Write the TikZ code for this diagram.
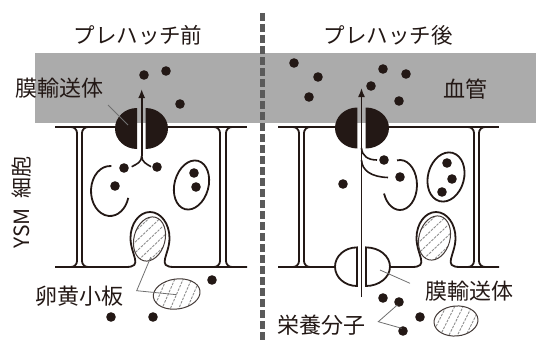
\documentclass[tikz,border=0pt]{standalone}
\usepackage{fontspec}
\setmainfont{Noto Sans CJK JP}
\usetikzlibrary{arrows.meta}

\definecolor{ink}{HTML}{231815}
\definecolor{band}{HTML}{ABABAB}
\definecolor{divider}{HTML}{5A5A5A}
\definecolor{leadgray}{HTML}{707070}
\definecolor{hatchgray}{HTML}{8E8E8E}

% yolk platelet: #1 centre, #2 x radius, #3 y radius, #4 tilt
\newcommand{\yolk}[4]{%
  \begin{scope}[shift={#1},rotate=#4]
    \begin{scope}
      \clip (0,0) ellipse [x radius=#2,y radius=#3];
      \foreach \k in {-54,-45,...,54}
        \draw[hatchgray,line width=0.9pt,dash pattern=on 2.6pt off 1.2pt] (\k-22,-36) -- (\k+22,36);
    \end{scope}
    \draw[yolkline] (0,0) ellipse [x radius=#2,y radius=#3];
  \end{scope}}

\begin{document}
\begin{tikzpicture}[x=1pt,y=1pt,
    membrane/.style={draw=ink,line width=1.8pt},
    flow/.style={draw=ink,line width=1.6pt},
    leader/.style={draw=leadgray,line width=0.8pt},
    yolkline/.style={draw=ink!85,line width=1pt},
    heading/.style={font=\fontsize{21.5}{26}\selectfont,text=ink,inner sep=0pt},
    lbl/.style={font=\fontsize{22}{26}\selectfont,text=ink,inner sep=0pt}]
    \useasboundingbox (0,0) rectangle (536,341);

    % blood vessel band
    \fill[band] (35,218) rectangle (536,288);

    % headings
    \node[heading] (pre) at (138,306) {プレハッチ前};
    \node[heading] (post) at (388,306) {プレハッチ後};
    \node[lbl] (vessel) at (465,252) {血管};
    \node[font=\fontsize{21}{24}\selectfont,text=ink,inner sep=0pt,rotate=90] (ysm) at (22,138.5) {YSM\hspace{0.45em}細胞};

    %% ---------- before prehatch ----------
    % apical and basal membrane
    \draw[membrane] (55,214) -- (125,214);
    \draw[membrane] (155,214) -- (247,214);
    \draw[membrane] (55,74) -- (126,74) .. controls (144,74) and (130.5,86) .. (130.5,103)
        arc[start angle=180,end angle=0,x radius=19.5,y radius=26]
        .. controls (169.5,86) and (156,74) .. (174,74) -- (247,74);
    % cell walls
    \draw[membrane,rounded corners=6pt] (62,214) -- (77,214) -- (77,74) -- (62,74);
    \draw[membrane,rounded corners=6pt] (97,214) -- (82,214) -- (82,74) -- (97,74);
    \draw[membrane,rounded corners=6pt] (205,214) -- (220,214) -- (220,74) -- (205,74);
    \draw[membrane,rounded corners=6pt] (241,214) -- (226,214) -- (226,74) -- (241,74);

    % transporter, split in two
    \fill[ink] (137,192) arc[start angle=-90,end angle=-270,x radius=22,y radius=20.5] -- cycle;
    \fill[ink] (145.5,192) arc[start angle=-90,end angle=90,x radius=22.5,y radius=20.5] -- cycle;

    % uptake route
    \coordinate (lfork) at (141.7,185);
    \coordinate (ltip) at (141.7,252);
    \draw[flow] (131.7,174.3) .. controls (137,177) and (141.7,179) .. (lfork);
    \draw[flow] (151,174.3) .. controls (146.5,177) and (141.7,179) .. (lfork);
    \draw[flow,-{Latex[length=9pt,width=7pt]}] (lfork) -- (ltip);

    % endosomes
    \draw[membrane] (110,150) ++(86:19 and 25) arc[start angle=86,end angle=344,x radius=19,y radius=25];
    \draw[membrane,rotate around={-15:(191.5,156)}] (191.5,156) ellipse[x radius=17,y radius=25];

    % yolk platelets
    \yolk{(149.5,102)}{15.5}{22.5}{-15}
    \yolk{(176.7,47)}{23.5}{15}{8}

    % nutrients
    \foreach \p in {(144,266),(166,270),(180,237),(124,173),(157,174),(115,155),
                    (194,168),(196,154),(212,61),(111,24),(153,24)}
        \fill[ink] \p circle (4.8);

    % labels
    \node[lbl] (tpl) at (60,253) {膜輸送体};
    \coordinate (tpl-a) at (108,236);
    \coordinate (tpl-b) at (128,216);
    \draw[leader] (tpl-a) -- (tpl-b);

    \node[lbl] (yolklbl) at (79,45) {卵黄小板};
    \coordinate (yk-c) at (136.7,50.3);
    \coordinate (yk-in) at (150.7,83.7);
    \coordinate (yk-out) at (176.7,46.3);
    \draw[leader] (yk-in) -- (yk-c) -- (yk-out);

    %% ---------- after prehatch ----------
    \draw[membrane] (278,214) -- (345,214);
    \draw[membrane] (378,214) -- (499,214);
    \draw[membrane] (278,74) -- (336,74);
    \draw[membrane] (389,74) -- (412,74) .. controls (430,74) and (416.5,86) .. (416.5,103)
        arc[start angle=180,end angle=0,x radius=19.5,y radius=26]
        .. controls (455.5,86) and (442,74) .. (460,74) -- (499,74);
    \draw[membrane,rounded corners=6pt] (284,214) -- (299,214) -- (299,74) -- (284,74);
    \draw[membrane,rounded corners=6pt] (319,214) -- (304,214) -- (304,74) -- (319,74);
    \draw[membrane,rounded corners=6pt] (459,214) -- (474,214) -- (474,74) -- (459,74);
    \draw[membrane,rounded corners=6pt] (494,214) -- (479,214) -- (479,74) -- (494,74);

    % apical transporter
    \fill[ink] (357.3,192.5) arc[start angle=-90,end angle=-270,x radius=22.3,y radius=20.5] -- cycle;
    \fill[ink] (365.7,192.5) arc[start angle=-90,end angle=90,x radius=23.3,y radius=20.5] -- cycle;
    % basal transporter
    \draw[membrane,fill=white] (357,55) arc[start angle=-90,end angle=-270,x radius=22,y radius=19.3] -- cycle;
    \draw[membrane,fill=white] (366,55) arc[start angle=-90,end angle=90,x radius=24,y radius=19.3] -- cycle;

    % transcellular route
    \coordinate (rbase) at (361.5,44);
    \coordinate (rtip) at (361.5,253);
    \draw[flow,-{Latex[length=9pt,width=7pt]}] (rbase) -- (rtip);
    \draw[flow] (361.5,193) .. controls (362,185) and (368,181) .. (377,181);
    \draw[flow] (361.5,181) .. controls (362,170) and (372,164) .. (388,163.5);

    % endosomes
    \draw[membrane] (400,156) ++(100:17 and 25) arc[start angle=100,end angle=-160,x radius=17,y radius=25];
    \draw[membrane,rotate around={-15:(446,164)}] (446,164) ellipse[x radius=18,y radius=25];

    % yolk platelets
    \yolk{(434.5,103)}{15.5}{22.5}{-15}
    \yolk{(456,20)}{22}{15}{5}

    % nutrients
    \foreach \p in {(294,278),(318,264),(309,244),(383,272),(406,267),(371,255),(399,240),
                    (384,181),(400,164),(343,157),(447,178),(452,162),(442,149),
                    (383,43),(399,39),(420,24),(403,10)}
        \fill[ink] \p circle (4.8);

    % labels
    \node[lbl] (tpr) at (469,50) {膜輸送体};
    \coordinate (tpr-a) at (380,71);
    \coordinate (tpr-b) at (410,57.7);
    \draw[leader] (tpr-a) -- (tpr-b);

    \node[lbl] (nutlbl) at (321,16) {栄養分子};
    \coordinate (nt-c) at (378.3,19.3);
    \coordinate (nt-a) at (397.3,36);
    \coordinate (nt-b) at (401.7,12.7);
    \draw[leader] (nt-a) -- (nt-c) -- (nt-b);

    % divider
    \draw[divider,line width=5pt,dash pattern=on 8pt off 3pt] (262,328) -- (262,0);
\end{tikzpicture}
\end{document}
